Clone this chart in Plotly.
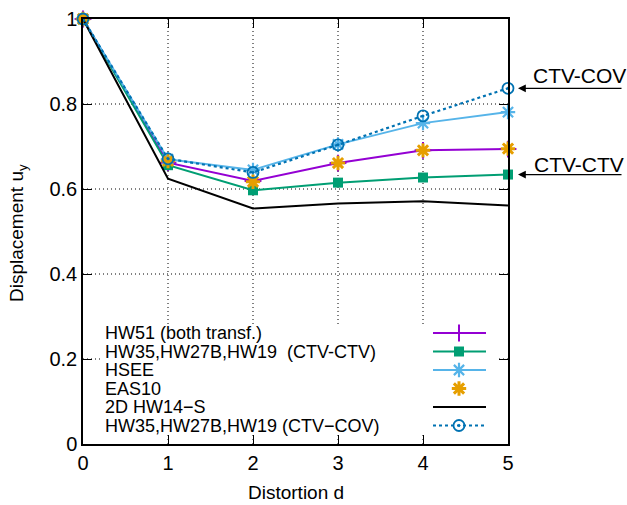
import plotly.graph_objects as go

# ---- data ----
d = [0, 1, 2, 3, 4, 5]
hw51 = [1.0, 0.662, 0.619, 0.661, 0.691, 0.694]
ctv_ctv = [1.0, 0.656, 0.597, 0.615, 0.627, 0.634]
hsee = [1.0, 0.670, 0.645, 0.705, 0.755, 0.781]
eas10 = [1.0, 0.666, 0.617, 0.661, 0.691, 0.695]
hw14s = [1.0, 0.624, 0.554, 0.566, 0.571, 0.561]
ctv_cov = [1.0, 0.671, 0.639, 0.704, 0.772, 0.837]

x_ticks = [0, 1, 2, 3, 4, 5]
y_ticks = [0, 0.2, 0.4, 0.6, 0.8, 1]

names = ["HW51 (both transf.)", "HW35,HW27B,HW19  (CTV-CTV)", "HSEE", "EAS10",
         "2D HW14\u2212S", "HW35,HW27B,HW19 (CTV\u2212COV)"]

FONT = "Liberation Sans, Arial, sans-serif"
PURPLE = "#9400d3"
GREEN = "#009e73"
LBLUE = "#56b4e9"
ORANGE = "#e69f00"
BLUE = "#0072b2"

styles = [
    dict(mode="lines+markers", line=dict(color=PURPLE, width=2),
         marker=dict(symbol="cross-thin-open", size=12, color=PURPLE,
                     line=dict(color=PURPLE, width=2))),
    dict(mode="lines+markers", line=dict(color=GREEN, width=2),
         marker=dict(symbol="square", size=10, color=GREEN)),
    dict(mode="lines+markers", line=dict(color=LBLUE, width=2),
         marker=dict(symbol="asterisk-open", size=12, color=LBLUE,
                     line=dict(color=LBLUE, width=2.2))),
    dict(mode="markers",
         marker=dict(symbol="asterisk-open", size=12, color=ORANGE,
                     line=dict(color=ORANGE, width=3))),
    dict(mode="lines", line=dict(color="black", width=2)),
    dict(mode="lines+markers", line=dict(color=BLUE, width=2.2, dash="dot"),
         marker=dict(symbol="circle-open-dot", size=11, color=BLUE,
                     line=dict(color=BLUE, width=1.8))),
]
series = [hw51, ctv_ctv, hsee, eas10, hw14s, ctv_cov]

fig = go.Figure()
for ys, st, nm in zip(series, styles, names):
    fig.add_trace(go.Scatter(x=d, y=ys, name=nm, showlegend=False, cliponaxis=False, **st))

# ---- geometry ----
W, H = 627, 505
L, R, T, B = 83, 119, 19, 61
pw, ph = W - L - R, H - T - B

# dotted grid (as shapes so the key box can hide it)
GRID = dict(color="black", width=1, dash="1px,3px")
for xv in x_ticks[1:-1]:
    fig.add_shape(type="line", xref="x", yref="y domain", x0=xv, x1=xv, y0=0, y1=1,
                  line=GRID, layer="below")
for yv in y_ticks[1:-1]:
    fig.add_shape(type="line", xref="x domain", yref="y", x0=0, x1=1, y0=yv, y1=yv,
                  line=GRID, layer="below")

# white key box hiding the grid
fig.add_shape(type="rect", xref="x domain", yref="y domain",
              x0=(100 - L) / pw, x1=(498 - L) / pw,
              y0=(H - B - 435) / ph, y1=(H - B - 325) / ph,
              fillcolor="white", line=dict(width=0), layer="below")

# ---- manual gnuplot-style key (text left, sample right) on an overlay axis ----
row_px = [333, 351.5, 370, 388.5, 407, 425.5]
key_y = [(H - B - p) / ph for p in row_px]
sx0, sx1, sxm = (433 - L) / pw, (486 - L) / pw, (459 - L) / pw

for ky, st, nm in zip(key_y, styles, names):
    if st["mode"] in ("lines+markers", "lines"):
        fig.add_trace(go.Scatter(x=[sx0, sx1], y=[ky, ky], mode="lines", line=st["line"],
                                 xaxis="x2", yaxis="y2", showlegend=False, hoverinfo="skip"))
    if st["mode"] in ("lines+markers", "markers"):
        fig.add_trace(go.Scatter(x=[sxm], y=[ky], mode="markers", marker=st["marker"],
                                 xaxis="x2", yaxis="y2", showlegend=False, hoverinfo="skip"))
    fig.add_annotation(x=(103 - L) / pw, y=ky, xref="paper", yref="paper", text=nm,
                       showarrow=False, xanchor="left", yanchor="middle",
                       font=dict(family=FONT, size=18, color="black"))

axis_common = dict(showline=True, linecolor="black", linewidth=1.5, mirror="allticks",
                   ticks="inside", ticklen=9, tickcolor="black", tickwidth=1,
                   showgrid=False, zeroline=False,
                   tickfont=dict(family=FONT, size=20, color="black"))

fig.update_layout(
    width=W, height=H,
    margin=dict(l=L, r=R, t=T, b=B, autoexpand=False),
    plot_bgcolor="white", paper_bgcolor="white",
    font=dict(family=FONT, color="black"),
    xaxis=dict(range=[0, 5], tickvals=x_ticks, ticktext=[str(v) for v in x_ticks], **axis_common),
    yaxis=dict(range=[0, 1], tickvals=y_ticks, ticktext=["0", "0.2", "0.4", "0.6", "0.8", "1"],
               **axis_common),
    xaxis2=dict(overlaying="x", range=[0, 1], visible=False, fixedrange=True),
    yaxis2=dict(overlaying="y", range=[0, 1], visible=False, fixedrange=True),
    showlegend=False,
)

# axis titles
fig.add_annotation(x=0.5, y=(H - B - 492) / ph, xref="paper", yref="paper",
                   text="Distortion d", showarrow=False, xanchor="center", yanchor="middle",
                   font=dict(family=FONT, size=19, color="black"))
fig.add_annotation(x=(18 - L) / pw, y=(H - B - 233) / ph, xref="paper", yref="paper",
                   text="Displacement u<sub>y</sub>", showarrow=False, textangle=-90,
                   xanchor="center", yanchor="middle",
                   font=dict(family=FONT, size=19, color="black"))

# labelled arrows on the right
for label, ys, text_cy in [("CTV-COV", ctv_cov, 75.5), ("CTV-CTV", ctv_ctv, 164.5)]:
    yv = ys[-1]
    fig.add_annotation(x=(518 - L) / pw, y=yv, xref="paper", yref="y", text="",
                       showarrow=True, ax=105, ay=0, axref="pixel", ayref="pixel",
                       arrowhead=2, arrowsize=1.3, arrowwidth=1.2, arrowcolor="black")
    fig.add_annotation(x=(579 - L) / pw, y=(H - B - text_cy) / ph, xref="paper", yref="paper",
                       text=label, showarrow=False, xanchor="center", yanchor="middle",
                       font=dict(family=FONT, size=21, color="black"))

fig.write_html("out.html")
